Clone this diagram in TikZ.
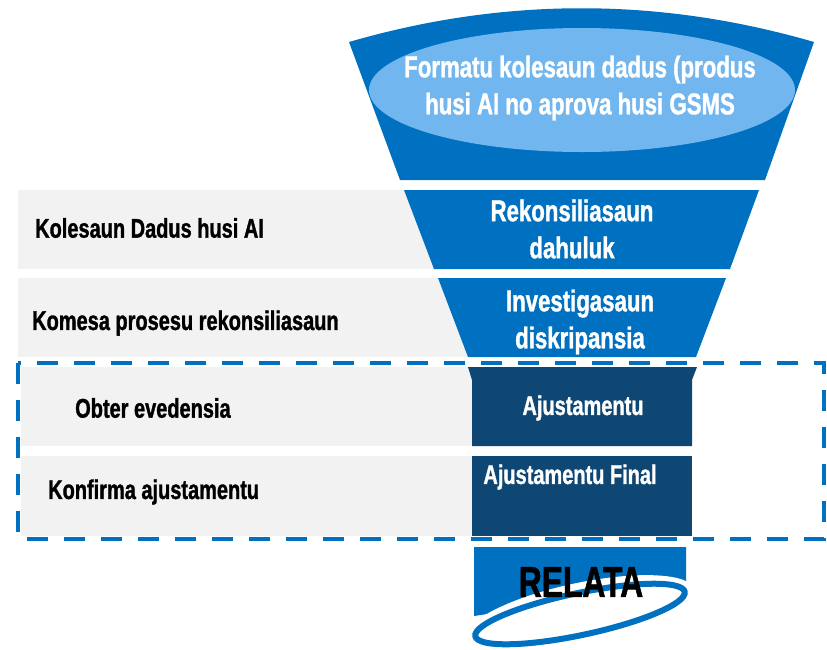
\documentclass[tikz,border=0pt]{standalone}
\usepackage{fontspec}
\setmainfont[FakeStretch=0.74, BoldFeatures={FakeBold=1.2}]{Liberation Sans}
\definecolor{funnelBlue}{HTML}{0070C0}
\definecolor{lightBlue}{HTML}{71B6EE}
\definecolor{navyBlue}{HTML}{0E4773}
\definecolor{barGray}{HTML}{F2F2F2}

\begin{document}
\begin{tikzpicture}[x=1pt, y=-1pt,
    every node/.style={inner sep=0pt},
    graybar/.style={fill=barGray},
    whitelbl/.style={text=white, align=center, font=\bfseries\fontsize{30}{37}\selectfont},
    sidelbl/.style={anchor=west, font=\bfseries\fontsize{27}{30}\selectfont}]
    \useasboundingbox (0,0) rectangle (827,649);

    % Thanh abu-abu
    \fill[graybar] (18,190) rectangle (600,269);
    \fill[graybar] (18,278) rectangle (600,357);
    \fill[graybar] (21,367) rectangle (472,446);
    \fill[graybar] (21,456) rectangle (472,536);

    % Parte leten funil
    \fill[funnelBlue] (349,42) .. controls (504,-3) and (659,-3) .. (814,42)
        -- (765,180) -- (400,180) -- cycle;
    \fill[lightBlue] (582,90) ellipse [x radius=213, y radius=62];
    \node[whitelbl] (formatu) at (580,88)
        {Formatu kolesaun dadus (produs\\husi AI no aprova husi GSMS};

    % Segmentu funil
    \fill[funnelBlue] (404,190) -- (759,190) -- (730,269) -- (434,269) -- cycle;
    \fill[funnelBlue] (438,278) -- (726,278) -- (696,357) -- (468,357) -- cycle;
    \fill[navyBlue] (468,367) -- (697,367) -- (692,380) -- (692,446)
        -- (472,446) -- (472,380) -- cycle;
    \fill[navyBlue] (472,456) rectangle (692,536);

    \node[whitelbl] (rekon) at (572,229) {Rekonsiliasaun\\dahuluk};
    \node[whitelbl] (invest) at (580,322) {Investigasaun\\diskripansia};
    \node[whitelbl, font=\bfseries\fontsize{27}{30}\selectfont] (ajust) at (583,408) {Ajustamentu};
    \node[whitelbl, font=\bfseries\fontsize{27}{30}\selectfont] (ajustFinal) at (570,477) {Ajustamentu Final};

    % Testu sorin karuk
    \node[sidelbl] (kolesaun) at (35,228) {Kolesaun Dadus husi AI};
    \node[sidelbl] (komesa) at (32,323) {Komesa prosesu rekonsiliasaun};
    \node[sidelbl] (obter) at (75,408) {Obter evedensia};
    \node[sidelbl] (konfirma) at (48,492) {Konfirma ajustamentu};

    % Kaixa tracejadu
    \draw[funnelBlue, line width=4pt, dash pattern=on 21pt off 16pt] (18,363) rectangle (824,539);

    % RELATA
    \fill[funnelBlue] (474,547) -- (686,547) -- (686,584) -- (474,616) -- cycle;
    \fill[white, rotate around={12:(580,614)}] (580,614) ellipse [x radius=117, y radius=31];
    \draw[funnelBlue, line width=6pt, rotate around={12:(580,614)}] (580,614) ellipse [x radius=107, y radius=21];
    \node[font=\bfseries\fontsize{43}{46}\selectfont] (relata) at (581,582) {RELATA};
\end{tikzpicture}
\end{document}
